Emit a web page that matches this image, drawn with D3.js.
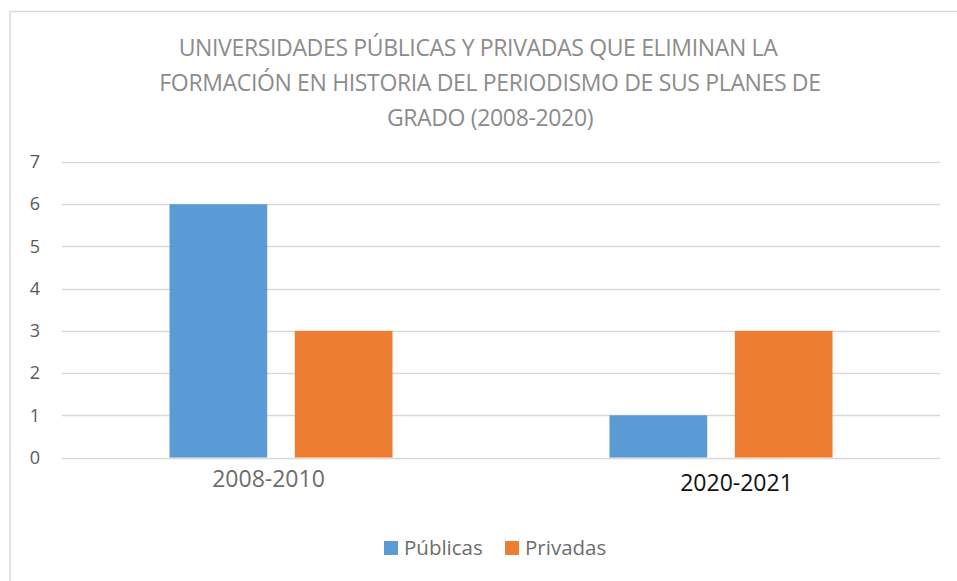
<!DOCTYPE html>
<html>
<head>
<meta charset="utf-8">
<script src="https://cdn.jsdelivr.net/npm/d3@7"></script>
<style>
  body { margin: 0; background: #fff; }
  svg, svg text { font-family: "Open Sans", "Noto Sans", sans-serif; }
  svg { display: block; }
</style>
</head>
<body>
<svg class="chart"></svg>
<script>
document.addEventListener('DOMContentLoaded', function() {
    const width = 957;
    const height = 581;

    // data
    const categories = ["2008-2010", "2020-2021"];
    const seriesNames = ["Públicas", "Privadas"];
    const publicas = [6, 1];
    const privadas = [3, 3];
    const yTicks = [0, 1, 2, 3, 4, 5, 6, 7];
    const titleLines = [
        "UNIVERSIDADES PÚBLICAS Y PRIVADAS QUE ELIMINAN LA",
        "FORMACIÓN EN HISTORIA DEL PERIODISMO DE SUS PLANES DE",
        "GRADO (2008-2020)"
    ];

    const colors = ["#5b9bd5", "#ed7d31"];
    const margin = { top: 162, right: 17, bottom: 124, left: 62 };

    const svg = d3.select('.chart')
        .attr('width', width)
        .attr('height', height);

    // chart frame (only top and left edges are visible in the picture)
    svg.append("rect")
        .attr("x", 10)
        .attr("y", 11.5)
        .attr("width", width + 20)
        .attr("height", height + 20)
        .attr("fill", "none")
        .attr("stroke", "#d9d9d9")
        .attr("stroke-width", 1.5);

    // title
    svg.append("text")
        .attr("text-anchor", "middle")
        .attr("fill", "#8c8c8c")
        .style("font-size", "23px")
        .style("letter-spacing", "-0.35px")
        .selectAll("tspan")
        .data(titleLines)
        .enter().append("tspan")
        .attr("x", (d, i) => i === 0 ? 478 : 490)
        .attr("y", (d, i) => 56 + i * 35)
        .text(d => d);

    const g = svg.append("g")
        .attr("transform", `translate(${margin.left},${margin.top})`);

    const innerW = width - margin.left - margin.right;
    const innerH = height - margin.top - margin.bottom;

    const x0 = d3.scaleBand()
        .domain(categories)
        .range([0, innerW]);

    const x1 = d3.scaleBand()
        .domain(seriesNames)
        .range([0, 223])
        .paddingInner(0.22);

    const y = d3.scaleLinear()
        .domain([0, 7])
        .range([innerH + 0.5, 0]);

    // gridlines
    g.append("g")
        .selectAll("line")
        .data(yTicks)
        .enter().append("line")
        .attr("x1", 0)
        .attr("x2", innerW)
        .attr("y1", d => Math.round(y(d)) + 0.5)
        .attr("y2", d => Math.round(y(d)) + 0.5)
        .attr("stroke", "#d9d9d9")
        .attr("stroke-width", 1.3);

    // y axis labels
    const yAxis = g.append("g")
        .attr("transform", "translate(-27,0)")
        .call(d3.axisLeft(y).tickValues(yTicks).tickFormat(d3.format("d")).tickSize(0).tickPadding(0));
    yAxis.attr("font-family", null);
    yAxis.select(".domain").remove();
    yAxis.selectAll("text")
        .attr("fill", "#595959")
        .attr("text-anchor", "middle")
        .style("font-size", "18px");

    // bars
    const groups = g.selectAll(".grp")
        .data(categories)
        .enter().append("g")
        .attr("class", "grp")
        .attr("transform", d => `translate(${x0(d) + x0.bandwidth() / 2 - 112 + (d === categories[1] ? 1 : 0)},0)`);

    groups.selectAll("rect")
        .data((d, i) => seriesNames.map((s, j) => ({ s, v: j === 0 ? publicas[i] : privadas[i], j })))
        .enter().append("rect")
        .attr("x", d => x1(d.s))
        .attr("width", x1.bandwidth())
        .attr("y", d => y(d.v))
        .attr("height", d => y(0) - y(d.v))
        .attr("fill", d => colors[d.j]);

    // category labels
    const xAxis = g.append("g")
        .attr("transform", `translate(0,${innerH})`)
        .call(d3.axisBottom(x0).tickSize(0).tickPadding(0));
    xAxis.attr("font-family", null);
    xAxis.select(".domain").remove();
    xAxis.selectAll("text")
        .style("font-size", "23px")
        .attr("dy", null)
        .attr("y", (d, i) => i === 0 ? 30 : 34)
        .attr("dx", (d, i) => i === 0 ? -13 : 16)
        .attr("fill", (d, i) => i === 0 ? "#6d6d6d" : "#111");

    // legend
    const legendX = [384, 505];
    const legend = svg.selectAll(".legend")
        .data(seriesNames)
        .enter().append("g")
        .attr("class", "legend")
        .attr("transform", (d, i) => `translate(${legendX[i]},541)`);

    legend.append("rect")
        .attr("width", 14)
        .attr("height", 14)
        .attr("fill", (d, i) => colors[i]);

    legend.append("text")
        .attr("x", 20)
        .attr("y", 7)
        .attr("dy", ".36em")
        .attr("fill", "#6d6d6d")
        .style("font-size", "20.5px")
        .text(d => d);
});
</script>
</body>
</html>
